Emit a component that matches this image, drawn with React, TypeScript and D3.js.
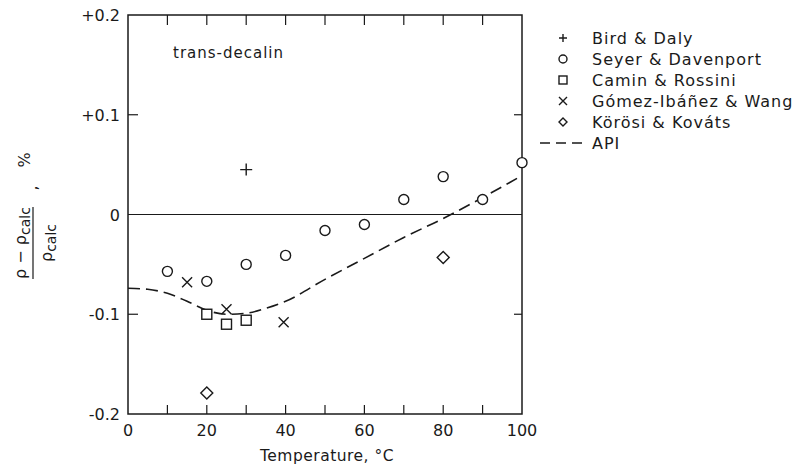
import React, { useRef, useEffect } from "react";
import * as d3 from "d3";

// deviation of measured density from calculated, % (trans-decalin)
const birdDaly = [{ t: 30, v: 0.045 }];
const seyerDavenport = [
  { t: 10, v: -0.057 }, { t: 20, v: -0.067 }, { t: 30, v: -0.05 }, { t: 40, v: -0.041 },
  { t: 50, v: -0.016 }, { t: 60, v: -0.01 }, { t: 70, v: 0.015 }, { t: 80, v: 0.038 },
  { t: 90, v: 0.015 }, { t: 100, v: 0.052 }
];
const caminRossini = [{ t: 20, v: -0.1 }, { t: 25, v: -0.11 }, { t: 30, v: -0.106 }];
const gomezWang = [{ t: 15, v: -0.068 }, { t: 25, v: -0.095 }, { t: 39.5, v: -0.108 }];
const korosiKovats = [{ t: 20, v: -0.179 }, { t: 80, v: -0.043 }];
const apiCurve = [
  { t: 0, v: -0.074 }, { t: 5, v: -0.075 }, { t: 10, v: -0.079 }, { t: 15, v: -0.087 },
  { t: 20, v: -0.096 }, { t: 25, v: -0.1 }, { t: 30, v: -0.099 }, { t: 35, v: -0.094 },
  { t: 40, v: -0.087 }, { t: 50, v: -0.065 }, { t: 60, v: -0.044 }, { t: 70, v: -0.023 },
  { t: 80, v: -0.004 }, { t: 90, v: 0.017 }, { t: 100, v: 0.039 }
];
const xTicks = [0, 20, 40, 60, 80, 100];
const xMinorTicks = [10, 20, 30, 40, 50, 60, 70, 80, 90];
const yTicks = [0.2, 0.1, 0, -0.1, -0.2];
const yTickLabels = ["+0.2", "+0.1", "0", "-0.1", "-0.2"];
const legendNames = ["Bird & Daly", "Seyer & Davenport", "Camin & Rossini", "Gómez-Ibáñez & Wang", "Körösi & Kováts", "API"];

const ink = "#1a1a1a";
const font = "'DejaVu Sans', sans-serif";

function drawMarker(g, kind, x, y, s) {
  if (kind === "plus") {
    g.append("path").attr("d", `M${x - s},${y}H${x + s}M${x},${y - s}V${y + s}`)
      .attr("stroke", ink).attr("stroke-width", 1.4);
  } else if (kind === "circle") {
    g.append("circle").attr("cx", x).attr("cy", y).attr("r", s)
      .attr("fill", "white").attr("stroke", ink).attr("stroke-width", 1.4);
  } else if (kind === "square") {
    g.append("rect").attr("x", x - s).attr("y", y - s).attr("width", 2 * s).attr("height", 2 * s)
      .attr("fill", "white").attr("stroke", ink).attr("stroke-width", 1.4);
  } else if (kind === "cross") {
    g.append("path").attr("d", `M${x - s},${y - s}L${x + s},${y + s}M${x - s},${y + s}L${x + s},${y - s}`)
      .attr("stroke", ink).attr("stroke-width", 1.4);
  } else if (kind === "diamond") {
    g.append("path").attr("d", `M${x},${y - s}L${x + s},${y}L${x},${y + s}L${x - s},${y}Z`)
      .attr("fill", "white").attr("stroke", ink).attr("stroke-width", 1.4);
  }
}

function D3Chart() {
  const ref = useRef(null);

  useEffect(() => {
    const root = d3.select(ref.current);
    root.select("svg").remove();

    const width = 795, height = 466;
    const left = 128, right = 522, top = 15, bottom = 414;

    const svg = root.append("svg")
      .attr("width", width).attr("height", height)
      .style("position", "absolute").style("left", 0).style("top", 0)
      .style("font-family", font);

    const x = d3.scaleLinear().domain([0, 100]).range([left, right]);
    const y = d3.scaleLinear().domain([-0.2, 0.2]).range([bottom, top]);

    // frame
    svg.append("rect").attr("x", left).attr("y", top)
      .attr("width", right - left).attr("height", bottom - top)
      .attr("fill", "none").attr("stroke", ink).attr("stroke-width", 1.5);

    // zero line
    svg.append("line").attr("x1", left).attr("x2", right).attr("y1", y(0)).attr("y2", y(0))
      .attr("stroke", ink).attr("stroke-width", 1.1);

    // inward ticks
    const tk = svg.append("g").attr("stroke", ink).attr("stroke-width", 1.2);
    xMinorTicks.forEach(t => {
      tk.append("line").attr("x1", x(t)).attr("x2", x(t)).attr("y1", bottom).attr("y2", bottom - 9);
      tk.append("line").attr("x1", x(t)).attr("x2", x(t)).attr("y1", top).attr("y2", top + 10);
    });
    [0.1, -0.1].forEach(v => {
      tk.append("line").attr("x1", left).attr("x2", left + 10).attr("y1", y(v)).attr("y2", y(v));
      tk.append("line").attr("x1", right).attr("x2", right - 8).attr("y1", y(v)).attr("y2", y(v));
    });

    // tick labels
    svg.append("g").selectAll("text").data(xTicks).enter().append("text")
      .attr("x", d => x(d)).attr("y", bottom + 22)
      .attr("text-anchor", "middle").attr("font-size", 16).attr("fill", ink)
      .text(d => d);
    svg.append("g").selectAll("text").data(yTicks).enter().append("text")
      .attr("x", left - 8).attr("y", d => y(d) + 6)
      .attr("text-anchor", "end").attr("font-size", 16).attr("fill", ink)
      .text((d, i) => yTickLabels[i]);

    // axis titles
    svg.append("text").attr("x", 327).attr("y", 461).attr("text-anchor", "middle")
      .attr("font-size", 15.5).attr("letter-spacing", 0.5).attr("fill", ink).text("Temperature, °C");

    const yl = svg.append("g").attr("transform", "translate(33,243) rotate(-90)")
      .attr("fill", ink).attr("font-size", 16);
    const num = yl.append("text").attr("x", 0).attr("y", -7).attr("text-anchor", "middle");
    num.append("tspan").text("ρ − ρ");
    num.append("tspan").attr("font-size", 14).attr("dy", 4).text("calc");
    const den = yl.append("text").attr("x", 0).attr("y", 19).attr("text-anchor", "middle");
    den.append("tspan").text("ρ");
    den.append("tspan").attr("font-size", 14).attr("dy", 4).text("calc");
    yl.append("line").attr("x1", -36).attr("x2", 36).attr("y1", 0).attr("y2", 0)
      .attr("stroke", ink).attr("stroke-width", 1.2);
    yl.append("text").attr("x", 55).attr("y", 4).attr("text-anchor", "middle").text(",");
    yl.append("text").attr("x", 83).attr("y", -3).attr("text-anchor", "middle").text("%");

    // compound label
    svg.append("text").attr("x", 173).attr("y", 58).attr("font-size", 15)
      .attr("letter-spacing", 1).attr("fill", ink).text("trans-decalin");

    // API curve
    const line = d3.line().x(d => x(d.t)).y(d => y(d.v)).curve(d3.curveMonotoneX);
    svg.append("path").datum(apiCurve).attr("d", line)
      .attr("fill", "none").attr("stroke", ink).attr("stroke-width", 1.6)
      .attr("stroke-dasharray", "12,6");

    // points
    const pts = svg.append("g");
    birdDaly.forEach(d => drawMarker(pts, "plus", x(d.t), y(d.v), 6));
    seyerDavenport.forEach(d => drawMarker(pts, "circle", x(d.t), y(d.v), 5));
    caminRossini.forEach(d => drawMarker(pts, "square", x(d.t), y(d.v), 5));
    gomezWang.forEach(d => drawMarker(pts, "cross", x(d.t), y(d.v), 5));
    korosiKovats.forEach(d => drawMarker(pts, "diamond", x(d.t), y(d.v), 6));

    // legend
    const kinds = ["plus", "circle", "square", "cross", "diamond", "dash"];
    const lg = svg.append("g");
    legendNames.forEach((name, i) => {
      const ly = 38 + i * 21;
      if (kinds[i] === "dash") {
        lg.append("line").attr("x1", 540).attr("x2", 583).attr("y1", ly).attr("y2", ly)
          .attr("stroke", ink).attr("stroke-width", 1.6).attr("stroke-dasharray", "10,6");
      } else {
        drawMarker(lg, kinds[i], 563, ly, 4);
      }
      lg.append("text").attr("x", 592).attr("y", ly + 6).attr("font-size", 16)
        .attr("letter-spacing", 1).attr("fill", ink).text(name);
    });
  }, []);

  return <div ref={ref}></div>;
}

export default function App() {
  return <D3Chart />;
}
